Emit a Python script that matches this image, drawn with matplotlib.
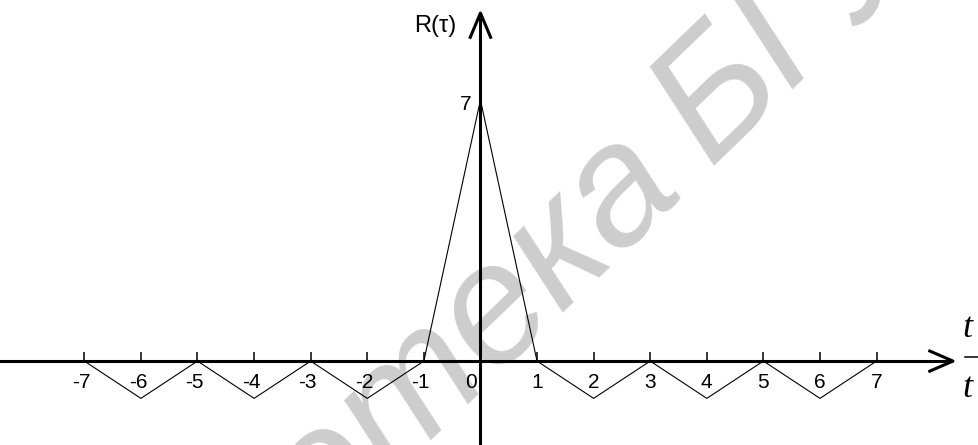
from matplotlib import pyplot as plt
from matplotlib import transforms
import numpy as np

# autocorrelation of a 7-chip sequence
tau = [-7, -6, -5, -4, -3, -2, -1, 0, 1, 2, 3, 4, 5, 6, 7]
R = [0, -1, 0, -1, 0, -1, 0, 7, 0, -1, 0, -1, 0, -1, 0]
tick_pos = [-7, -6, -5, -4, -3, -2, -1, 0, 1, 2, 3, 4, 5, 6, 7]
tick_txt = ['-7', '-6', '-5', '-4', '-3', '-2', '-1', '0', '1', '2', '3', '4', '5', '6', '7']

plt.rcParams['font.family'] = ['Liberation Sans', 'DejaVu Sans']

fig = plt.figure(figsize=(9.79, 4.45), dpi=100)
ax = fig.add_axes([0, 0, 1, 1])
ax.set_xlim(-8.49, 8.81)
ax.set_ylim(-2.25, 9.68)
ax.axis('off')

# watermark
wm = dict(fontsize=122, color='#cdcdcd', style='italic', rotation=44,
          rotation_mode='anchor', va='baseline', zorder=0,
          transform=fig.transFigure)
ax.text(709 / 979, 1 - 166 / 445, 'БГУИР', ha='left', **wm)
ax.text(686 / 979, 1 - 189 / 445, 'Библиотека', ha='right', **wm)

# axes with open arrow heads
ax.plot([-8.6, 8.35], [0, 0], color='k', lw=2.2, solid_capstyle='butt', zorder=3)
ax.plot([0, 0], [-2.4, 9.33], color='k', lw=2.2, solid_capstyle='butt', zorder=3)
ax.plot([7.94, 8.35, 7.94], [0.27, 0, -0.27], color='k', lw=2.2, zorder=3)
ax.plot([-0.18, 0, 0.18], [8.68, 9.33, 8.68], color='k', lw=2.2, zorder=3)

ax.vlines([p for p in tick_pos if p != 0], 0, 0.24, color='k', lw=1.1, zorder=3)

ax.plot(tau, R, color='k', lw=0.8, zorder=2)

for p, s in zip(tick_pos, tick_txt):
    dx = -3 if s.startswith('-') else 0
    if p == 0:
        dx = -9
    tr = transforms.offset_copy(ax.transData, fig=fig, x=dx, y=0, units='dots')
    ax.text(p, -0.58, s, ha='center', va='center', fontsize=15, transform=tr)

ax.text(-0.15, 6.88, '7', ha='right', va='center', fontsize=15)
ax.text(-0.8, 8.99, 'R(τ)', ha='center', va='center', fontsize=17)

# axis label on the right, cut off by the edge
ax.text(8.52, 0.42, 't', ha='left', va='bottom', fontsize=26,
        family='Liberation Serif', style='italic')
ax.text(8.52, -0.3, 't', ha='left', va='top', fontsize=26,
        family='Liberation Serif', style='italic')
ax.plot([8.56, 8.9], [0.1, 0.1], color='k', lw=1.1)

fig.savefig('out.png', dpi=100)
